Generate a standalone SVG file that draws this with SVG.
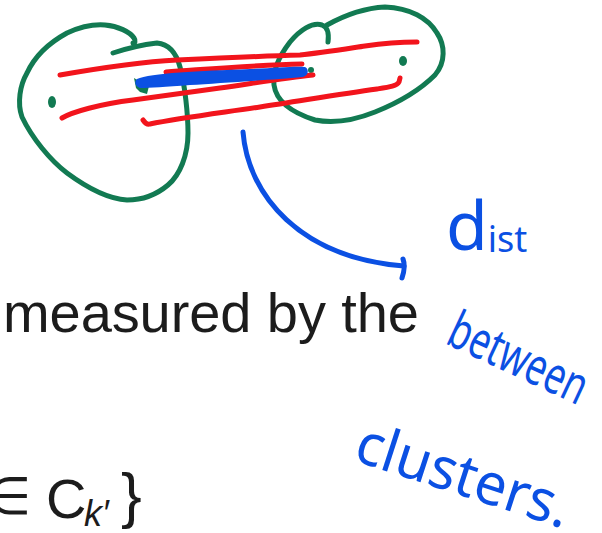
<svg xmlns="http://www.w3.org/2000/svg" width="602" height="533" viewBox="0 0 602 533">
<style>
.g{fill:none;stroke:#127a52;stroke-width:5;stroke-linecap:round;stroke-linejoin:round}
.r{fill:none;stroke:#f2141c;stroke-width:5;stroke-linecap:round;stroke-linejoin:round}
.b{fill:none;stroke:#0b50e3;stroke-width:5;stroke-linecap:round;stroke-linejoin:round}
.pt{font-family:"Liberation Sans",Arial,sans-serif;fill:#1c1c1c}
.hw{font-family:"Noto Sans","DejaVu Sans",sans-serif;fill:#0b50e3}
</style>
<rect width="602" height="533" fill="#fff"/>
<g id="cluster-left">
<path class="g" d="M113,53 C125,49 140,45 157,43 C168,44 176,52 180,67 C185,85 188,115 188,133 C188,155 180,175 168,185 C155,196 140,200 127,200 C110,199 90,190 67,173 C50,160 32,138 22,117 C17,103 20,85 27,73 C33,60 45,45 67,33 C80,27 92,24 105,25 C118,26 130,32 134,38 C136,41 135,43 133,43"/>
<ellipse cx="52" cy="102" rx="4" ry="6" fill="#127a52"/>
<path d="M134,78 L139,81 L146,80 L149,86 L147,94 L140,92 L136,88 Z" fill="#127a52"/>
</g>
<g id="cluster-right">
<path class="g" d="M328,42 C329,34 328,27 322,25 C312,22 300,30 290,42 C280,55 272,70 274,85 C276,100 290,112 315,120 C335,124 355,120 375,112 C400,102 420,90 435,75 C446,62 445,45 437,33 C428,18 410,8 385,7 C365,8 345,15 327,25"/>
<ellipse cx="403" cy="61" rx="4" ry="5" fill="#127a52"/>
<ellipse cx="311" cy="70" rx="3" ry="3" fill="#127a52"/>
</g>
<g id="links">
<path class="r" d="M60,75 C100,68 140,62 177,60 C220,58 265,56 300,55 C320,53 345,49 365,46 C385,43 400,42 417,42"/>
<path class="r" d="M166,72 C210,69 255,65 302,64"/>
<path class="r" d="M62,118 C72,112 100,104 133,100 C160,96 190,92 220,88 C255,83 285,78 313,75"/>
<path class="r" d="M143,120 C145,123 147,125 150,124 C180,118 220,113 260,107 C300,101 340,94 377,89 C390,87 397,86 399,82 L400,78"/>
<path d="M137,79 C150,73 200,71 250,69 C275,68 295,66 305,67 C309,69 309,75 303,77 C270,80 220,83 190,85 C165,87 150,88 140,88 C135,86 134,82 137,79 Z" fill="#0b50e3"/>
<path class="b" d="M243,132 C248,195 300,258 404,266"/>
<path class="b" d="M403,259 C405,264 404,272 402,278"/>
</g>
<g id="printed">
<text class="pt" x="3" y="332" font-size="56" textLength="416" lengthAdjust="spacing">measured by the</text>
<text class="pt" x="-14" y="514" font-size="52">∈</text>
<text class="pt" x="46" y="518" font-size="56">C</text>
<text class="pt" x="84" y="526" font-size="36" font-style="italic">k′</text>
<text class="pt" x="121" y="516" font-size="62">}</text>
</g>
<g id="notes">
<text class="hw" x="444" y="343" font-size="52" textLength="148" lengthAdjust="spacingAndGlyphs" transform="rotate(25 444 343)">between</text>
<text class="hw" x="446" y="250" font-size="36"><tspan font-size="68">d</tspan><tspan dy="2">ist</tspan></text>
<text class="hw" x="352" y="460" font-size="58" textLength="222" lengthAdjust="spacingAndGlyphs" transform="rotate(18 352 460)">clusters.</text>
</g>
</svg>
